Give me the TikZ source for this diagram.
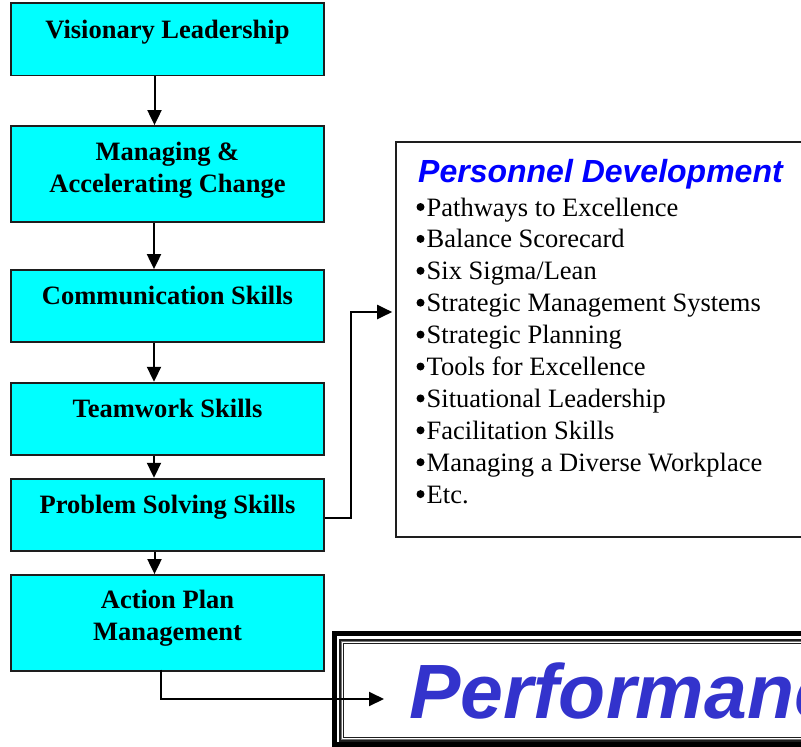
\documentclass[tikz,border=0pt]{standalone}
\usepackage{fontspec}
\setmainfont{Liberation Serif}
\newfontfamily\arialfont{Liberation Sans}
\usetikzlibrary{arrows.meta}
\definecolor{boxcyan}{RGB}{0,255,255}
\definecolor{titleblue}{RGB}{0,0,255}
\definecolor{perfblue}{RGB}{51,51,204}
\definecolor{edge}{RGB}{30,30,30}
\begin{document}
\begin{tikzpicture}[x=1pt,y=-1pt,
  cbox/.style={draw=edge,line width=1.8pt,fill=boxcyan,minimum width=313pt,inner sep=0pt},
  lbl/.style={anchor=base,inner sep=0pt,font=\fontsize{26.5}{32}\selectfont\bfseries},
  item/.style={anchor=base west,inner sep=0pt,font=\fontsize{26.5}{32}\selectfont},
  arr/.style={line width=2pt,-{Triangle[length=15pt,width=14pt]}},
  conn/.style={line width=2pt}]
\useasboundingbox (0,0) rectangle (801,747);
\clip (0,0) rectangle (801,747);
% left boxes
\node[cbox,minimum height=72.5pt] (b1) at (167.5,39.25) {};
\node[cbox,minimum height=96pt]   (b2) at (167.5,174) {};
\node[cbox,minimum height=71.7pt] (b3) at (167.5,305.85) {};
\node[cbox,minimum height=72.3pt] (b4) at (167.5,418.85) {};
\node[cbox,minimum height=72.3pt] (b5) at (167.5,514.85) {};
\node[cbox,minimum height=95.7pt] (b6) at (167.5,622.85) {};
\node[lbl] (l1) at (167.5,38) {Visionary Leadership};
\node[lbl] (l2a) at (167.5,160) {Managing \&};
\node[lbl] (l2b) at (167.5,192) {Accelerating Change};
\node[lbl] (l3) at (167.5,304) {Communication Skills};
\node[lbl] (l4) at (167.5,417) {Teamwork Skills};
\node[lbl] (l5) at (167.5,513) {Problem Solving Skills};
\node[lbl] (l6a) at (167.5,608) {Action Plan};
\node[lbl] (l6b) at (167.5,640) {Management};
% vertical arrows
\draw[arr] ([xshift=-13pt]b1.south) -- ([xshift=-13pt]b2.north);
\draw[arr] ([xshift=-13.5pt]b2.south) -- ([xshift=-13.5pt]b3.north);
\draw[arr] ([xshift=-13.5pt]b3.south) -- ([xshift=-13.5pt]b4.north);
\draw[arr] ([xshift=-13.5pt]b4.south) -- ([xshift=-13.5pt]b5.north);
\draw[arr] ([xshift=-13pt]b5.south) -- ([xshift=-13pt]b6.north);
% personnel development box
\node[draw=edge,line width=1.6pt,minimum width=410pt,minimum height=395pt,inner sep=0pt] (pd) at (601,339.5) {};
\node[anchor=base west,inner sep=0pt,text=titleblue,font=\arialfont\fontsize{32}{36}\selectfont\bfseries\itshape] (pdt) at (418,182) {Personnel Development};
\foreach \t [count=\i from 0] in {Pathways to Excellence,Balance Scorecard,Six Sigma/Lean,Strategic Management Systems,Strategic Planning,Tools for Excellence,Situational Leadership,Facilitation Skills,Managing a Diverse Workplace,Etc.}{
  \fill (420.5,207+31.9*\i) circle[radius=4pt];
  \node[item] (it\i) at (426.5,216+31.9*\i) {\t};
}
% connector problem solving -> personnel development
\draw[arr] ([yshift=-3pt]b5.east) -- ++(26,0) |- ([xshift=-3pt,yshift=27.5pt]pd.west);
% performance frame
\node[draw=black,line width=5.5pt,minimum width=500pt,minimum height=111pt,inner sep=0pt] (perf) at (584.5,689) {};
\draw[edge,line width=1.2pt] (340,640) rectangle (840,741);
\draw[edge!60,line width=1pt] (341.7,641.6) rectangle (840,739.2);
\draw[edge,line width=1.2pt] (343.5,643.3) rectangle (840,737.5);
\node[anchor=base west,inner sep=0pt,text=perfblue,font=\arialfont\fontsize{77}{80}\selectfont\bfseries\itshape] (pt) at (409,718) {Performance};
\coordinate (perfin) at (384,699);
% connector action plan -> performance
\draw[arr] ([xshift=-6.5pt,yshift=2pt]b6.south) |- (perfin);
\end{tikzpicture}
\end{document}
